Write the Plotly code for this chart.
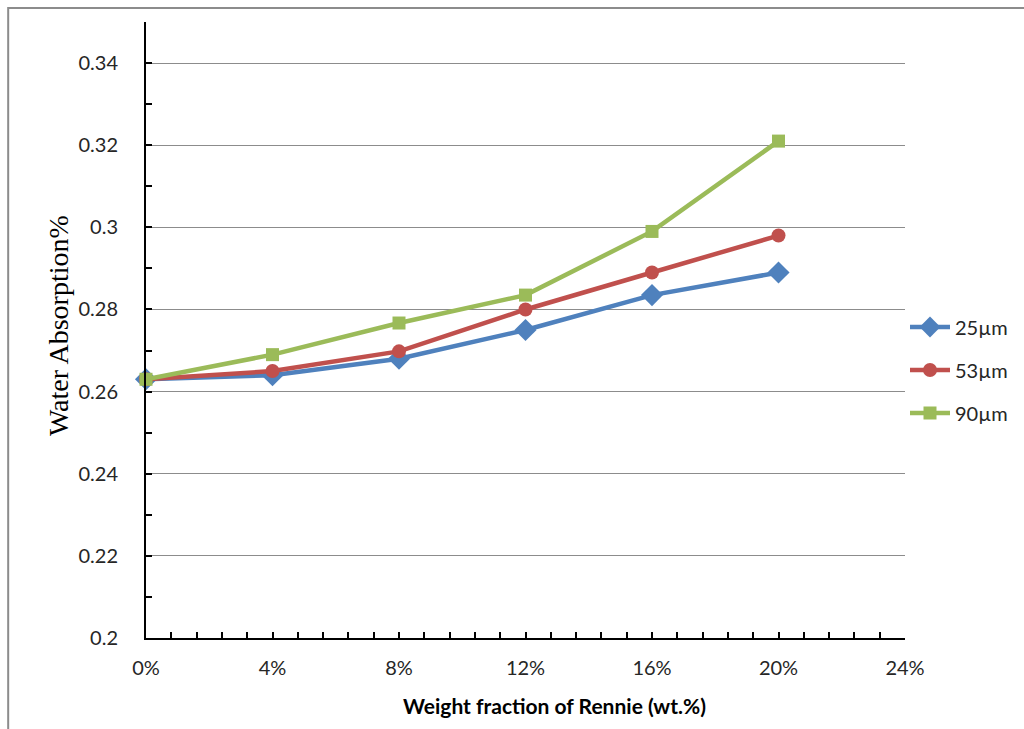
import plotly.graph_objects as go

# Weight fraction of Rennie (wt.%)
weight_fraction = [0, 4, 8, 12, 16, 20]

# Water absorption for each particle size
absorption_25um = [0.263, 0.264, 0.268, 0.275, 0.2835, 0.289]
absorption_53um = [0.263, 0.265, 0.2698, 0.280, 0.289, 0.298]
absorption_90um = [0.263, 0.269, 0.2767, 0.2835, 0.299, 0.321]

series_names = ["25\u00b5m", "53\u00b5m", "90\u00b5m"]

x_tickvals = [0, 4, 8, 12, 16, 20, 24]
x_ticktext = ["0%", "4%", "8%", "12%", "16%", "20%", "24%"]
y_tickvals = [0.2, 0.22, 0.24, 0.26, 0.28, 0.3, 0.32, 0.34]
y_ticktext = ["0.2", "0.22", "0.24", "0.26", "0.28", "0.3", "0.32", "0.34"]

SANS = "Lato, 'Open Sans', sans-serif"
SERIF = "'Liberation Serif', 'DejaVu Serif', serif"

styles = [
    dict(color="#4F81BD", symbol="diamond", size=17),
    dict(color="#C0504D", symbol="circle", size=14),
    dict(color="#9BBB59", symbol="square", size=13),
]

fig = go.Figure()
for name, ys, st in zip(series_names,
                        [absorption_25um, absorption_53um, absorption_90um],
                        styles):
    fig.add_trace(go.Scatter(
        x=weight_fraction, y=ys, name=name, legendgroup=name,
        mode="lines+markers",
        line=dict(color=st["color"], width=4.5),
        marker=dict(color=st["color"], symbol=st["symbol"], size=st["size"],
                    line=dict(width=0)),
        cliponaxis=False,
    ))

W, H = 1024, 729
L, R, T, B = 146, 118, 22, 91
pw, ph = W - L - R, H - T - B

def px_x(px):
    return (px - L) / pw

def px_y(py):
    return (H - B - py) / ph

fig.update_layout(
    width=W, height=H,
    margin=dict(l=L, r=R, t=T, b=B, pad=0),
    paper_bgcolor="white", plot_bgcolor="white",
    font=dict(family=SANS, size=20, color="#262626"),
    showlegend=True,
    legend=dict(
        x=px_x(905), y=px_y(370), xanchor="left", yanchor="middle",
        font=dict(family=SANS, size=20, color="#262626"),
        traceorder="grouped", tracegroupgap=14,
        itemwidth=40, bgcolor="rgba(0,0,0,0)",
    ),
    xaxis=dict(
        range=[0, 24], tickvals=x_tickvals, ticktext=x_ticktext,
        showgrid=False, zeroline=False,
        showline=True, linecolor="black", linewidth=2,
        ticks="inside", ticklen=6, tickwidth=2, tickcolor="black",
        minor=dict(dtick=0.8, tick0=0, ticks="inside", ticklen=6,
                   tickwidth=2, tickcolor="black", showgrid=False),
        ticklabelstandoff=11,
        tickfont=dict(family=SANS, size=20, color="#262626"),
    ),
    yaxis=dict(
        range=[0.2, 0.35], tickvals=y_tickvals, ticktext=y_ticktext,
        showgrid=True, gridcolor="#8C8C8C", gridwidth=1, zeroline=False,
        showline=True, linecolor="black", linewidth=2,
        ticks="inside", ticklen=6, tickwidth=2, tickcolor="black",
        minor=dict(dtick=0.01, tick0=0.2, ticks="inside", ticklen=6,
                   tickwidth=2, tickcolor="black", showgrid=False),
        ticklabelstandoff=22,
        tickfont=dict(family=SANS, size=20, color="#262626"),
    ),
    annotations=[
        dict(text="<b>Weight fraction of Rennie (wt.%)</b>",
             x=px_x(555), y=px_y(705), xref="paper", yref="paper",
             xanchor="center", yanchor="middle", showarrow=False,
             font=dict(family=SANS, size=21, color="black")),
        dict(text="Water Absorption%",
             x=px_x(58), y=px_y(326), xref="paper", yref="paper",
             xanchor="center", yanchor="middle", showarrow=False, textangle=-90,
             font=dict(family=SERIF, size=28, color="black")),
    ],
    shapes=[
        dict(type="rect", xref="paper", yref="paper",
             x0=px_x(8), x1=px_x(1060), y0=px_y(760), y1=px_y(8),
             line=dict(color="#8C8C8C", width=2), layer="below"),
    ],
)

fig.write_html("out.html")
